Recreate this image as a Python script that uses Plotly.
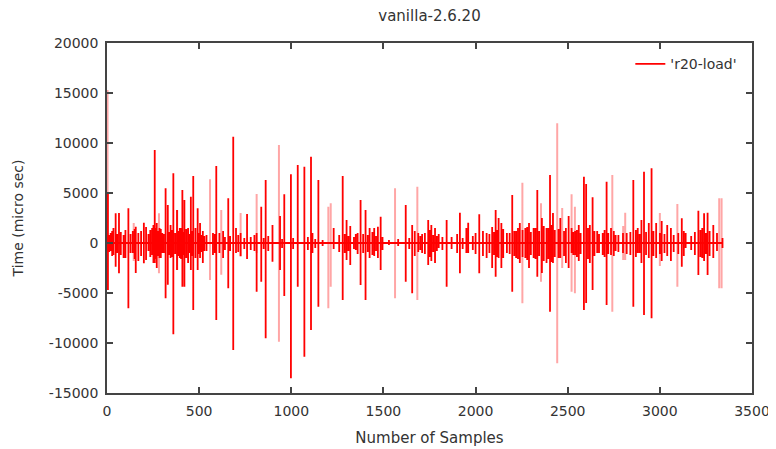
import plotly.graph_objects as go

# ---- data (sample index, peak up, peak down) ----
dark_x = [5, 20, 35, 47, 65, 90, 116, 140, 156, 170, 200, 225, 245, 259, 270, 285, 300,
          318, 330, 345, 360, 380, 395, 409, 420, 440, 455, 468, 480, 492, 505, 520, 540,
          575, 593, 610, 630, 658, 685, 700, 725, 760, 800, 812, 837, 861, 898, 939, 962,
          998, 1035, 1071, 1107, 1115, 1147, 1170, 1230, 1279, 1300, 1320, 1340, 1350,
          1376, 1403, 1425, 1450, 1470, 1485, 1530, 1580, 1621, 1656, 1689, 1700, 1743,
          1760, 1780, 1800, 1843, 1870, 1915, 1950, 1960, 1985, 2020, 2060, 2090, 2109,
          2125, 2140, 2170, 2199, 2220, 2240, 2270, 2290, 2315, 2335, 2360, 2385, 2404,
          2420, 2460, 2490, 2505, 2521, 2540, 2560, 2588, 2600, 2620, 2635, 2660, 2690,
          2711, 2735, 2760, 2800, 2856, 2880, 2900, 2914, 2940, 2955, 2980, 3010, 3040,
          3060, 3119, 3140, 3170, 3209, 3230, 3240, 3259, 3290, 3310, 3340,
          # smaller oscillations around the baseline
          12, 28, 55, 75, 100, 128, 150, 185, 212, 235, 252, 264, 278, 292, 308, 338, 352,
          370, 388, 402, 415, 430, 448, 462, 498, 512, 528, 585, 640, 668, 712, 745, 780,
          850, 875, 950, 1010, 1090, 1130, 1260, 1290, 1310, 1360, 1390, 1415, 1440, 1460,
          1495, 1640, 1670, 1710, 1725, 1752, 1770, 1790, 1820, 1900, 1930, 2000, 2040,
          2075, 2100, 2118, 2150, 2185, 2210, 2230, 2255, 2280, 2300, 2325, 2345, 2370,
          2395, 2412, 2430, 2450, 2480, 2530, 2550, 2570, 2610, 2645, 2670, 2700, 2720,
          2750, 2775, 2820, 2840, 2870, 2890, 2925, 2965, 3000, 3025, 3075, 3100, 3130,
          3190, 3220, 3250, 3270, 3300, 3325]
dark_up = [4970, 1000, 1500, 2970, 3000, 800, 3470, 1200, 1630, 1000, 2030, 900, 1500, 9300,
           2000, 1500, 1000, 5470, 3800, 1800, 6970, 3300, 1500, 5300, 4300, 1500, 4630, 6700,
           1500, 3470, 2000, 1200, 800, 1000, 7700, 1000, 1200, 4470, 10630, 1500, 1000, 2900,
           800, 1000, 3630, 6300, 1800, 2700, 4870, 6870, 7800, 7630, 8630, 1000, 6300, 300,
           1500, 6700, 2300, 1700, 600, 900, 4300, 3300, 1500, 1500, 1630, 2630, 300, 400,
           3800, 1800, 1000, 700, 2300, 1800, 1500, 900, 2300, 600, 3030, 1500, 2030, 700,
           2870, 1000, 1600, 3300, 2500, 2000, 1000, 4800, 1200, 2000, 1500, 2000, 1500, 5300,
           2500, 1500, 6800, 3000, 2500, 1500, 2700, 1500, 1200, 1800, 6630, 5900, 1800, 4570,
           1200, 1000, 6130, 1500, 800, 1000, 6300, 1500, 2300, 7130, 2000, 7470, 2000, 2200,
           1800, 1500, 2470, 1000, 700, 3230, 1500, 2970, 3030, 1800, 1000, 500,
           800, 1200, 900, 1100, 1300, 900, 1400, 1200, 1600, 1300, 1800, 1500, 1200, 1400,
           900, 1100, 1300, 1000, 1200, 1500, 1100, 1400, 900, 1200, 1000, 800, 700, 900,
           600, 700, 800, 500, 600, 500, 700, 400, 500, 600, 400, 800, 900, 700, 1000, 900,
           800, 1100, 700, 600, 500, 1200, 900, 1000, 1300, 800, 700, 600, 900, 500, 1000,
           1200, 900, 1100, 1300, 1400, 1000, 1200, 1500, 1300, 1600, 1100, 1500, 1200, 1700,
           1500, 1800, 1300, 1400, 1200, 1100, 1300, 1000, 1500, 1200, 900, 1300, 1000, 1200,
           800, 1000, 1100, 1300, 900, 1100, 1200, 1000, 900, 800, 1000, 1200, 1100, 1300,
           1000, 1200]
dark_down = [-4700, -800, -1200, -2370, -3030, -1500, -6530, -1000, -3000, -1800, -2030, -800,
             -1200, -2000, -2500, -1500, -1000, -5530, -4170, -1500, -9130, -2700, -1500, -4370,
             -4370, -2000, -2700, -6700, -1500, -2700, -1500, -2000, -800, -1200, -7700, -1000,
             -1500, -4530, -10700, -1000, -1300, -1600, -800, -4870, -3870, -9530, -1870, -2700,
             -5300, -13530, -4370, -11370, -8700, -1000, -6370, -300, -600, -5700, -1700, -2200,
             -600, -700, -4200, -5700, -1500, -1300, -1500, -2700, -200, -300, -3870, -5030,
             -900, -700, -2200, -1800, -2000, -500, -4370, -600, -3030, -1000, -1000, -700,
             -3030, -1500, -2500, -3370, -1500, -2500, -1000, -4870, -1500, -2000, -1500, -2500,
             -1500, -3370, -3000, -2000, -6870, -2000, -1500, -2000, -2500, -1000, -1200, -1800,
             -6700, -6000, -2000, -4700, -1000, -1200, -6200, -1200, -800, -1000, -6370, -1000,
             -2000, -7200, -1500, -7530, -1500, -1800, -1300, -1800, -2370, -500, -700, -3200,
             -1500, -1800, -3200, -1500, -800, -500,
             -900, -1300, -1000, -1200, -1500, -1000, -1600, -1300, -1700, -1400, -2000, -1600,
             -1300, -1500, -1000, -1200, -1400, -1100, -1300, -1600, -1200, -1500, -1000, -1300,
             -1100, -900, -800, -1000, -700, -800, -900, -600, -700, -600, -800, -500, -600,
             -700, -500, -900, -1000, -800, -1100, -1000, -900, -1200, -800, -700, -600, -1300,
             -1000, -1100, -1400, -900, -800, -700, -1000, -600, -1100, -1300, -1000, -1200,
             -1400, -1500, -1100, -1300, -1600, -1400, -1700, -1200, -1600, -1300, -1800, -1600,
             -1900, -1400, -1500, -1300, -1200, -1400, -1100, -1600, -1300, -1000, -1400, -1100,
             -1300, -900, -1100, -1200, -1400, -1000, -1200, -1300, -1100, -1000, -900, -1100,
             -1300, -1200, -1400, -1100, -1300]

light_x = [3, 145, 282, 381, 559, 620, 725, 812, 933, 1201, 1214, 1563, 1684, 2254, 2355,
           2443, 2470, 2521, 2539, 2742, 2801, 2812, 3000, 3095, 3322, 3335]
light_up = [15300, 2000, 2970, 3300, 6370, 3300, 3000, 4900, 9800, 3630, 3970, 5470, 5630,
            6030, 3970, 11970, 3500, 4870, 3630, 6800, 1700, 3030, 3000, 3900, 4470, 4470]
light_down = [-4700, -1800, -3030, -2700, -3700, -3170, -1370, -1000, -9870, -6530, -4370,
              -5530, -5700, -6030, -3870, -12030, -2500, -4870, -5030, -6870, -1700, -1700,
              -2300, -4370, -4530, -4530]

x_ticks = [0, 500, 1000, 1500, 2000, 2500, 3000, 3500]
y_ticks = [-15000, -10000, -5000, 0, 5000, 10000, 15000, 20000]


def trace_path(xs, ups, downs):
    pts = sorted(zip(xs, ups, downs))
    px, py = [], []
    for s, u, d in pts:
        px += [s, s, s, s]
        py += [0, u, d, 0]
    return px, py


lx, ly = trace_path(light_x, light_up, light_down)
dx, dy = trace_path(dark_x, dark_up, dark_down)

font = "DejaVu Sans, Verdana, sans-serif"
fig = go.Figure()
fig.add_trace(go.Scatter(x=lx, y=ly, mode="lines", showlegend=False, hoverinfo="skip",
                         line=dict(color="rgba(255,0,0,0.35)", width=2)))
fig.add_trace(go.Scatter(x=dx, y=dy, mode="lines", name="'r20-load'",
                         line=dict(color="#ff0000", width=1.8)))

axis_common = dict(showgrid=False, zeroline=False, showline=True, linecolor="#444",
                   linewidth=1.5, mirror="allticks", ticks="inside", ticklen=6,
                   tickcolor="#444", tickwidth=1.5, automargin=False,
                   tickfont=dict(family=font, size=14, color="#333"))

# the page body adds an 8px offset, so the figure is sized to fit the 776x449 window
fig.update_layout(
    width=768, height=441,
    paper_bgcolor="white", plot_bgcolor="white",
    margin=dict(l=99, r=24, t=35, b=56, autoexpand=False),
    title=dict(text="vanilla-2.6.20", xref="paper", x=0.5, xanchor="center",
               yref="container", y=0.995, yanchor="top",
               font=dict(family=font, size=15, color="#333")),
    xaxis=dict(range=[0, 3500], tickvals=x_ticks, ticktext=[str(v) for v in x_ticks],
               ticklabelstandoff=4,
               title=dict(text="Number of Samples", standoff=15,
                          font=dict(family=font, size=15, color="#333")),
               **axis_common),
    yaxis=dict(range=[-15000, 20000], tickvals=y_ticks, ticktext=[str(v) for v in y_ticks],
               ticklabelstandoff=4,
               title=dict(text="Time (micro sec)", standoff=22,
                          font=dict(family=font, size=14, color="#333")),
               **axis_common),
    legend=dict(x=0.985, y=0.985, xanchor="right", yanchor="top", bgcolor="rgba(0,0,0,0)",
                font=dict(family=font, size=14, color="#333")),
)

fig.write_html("out.html")
